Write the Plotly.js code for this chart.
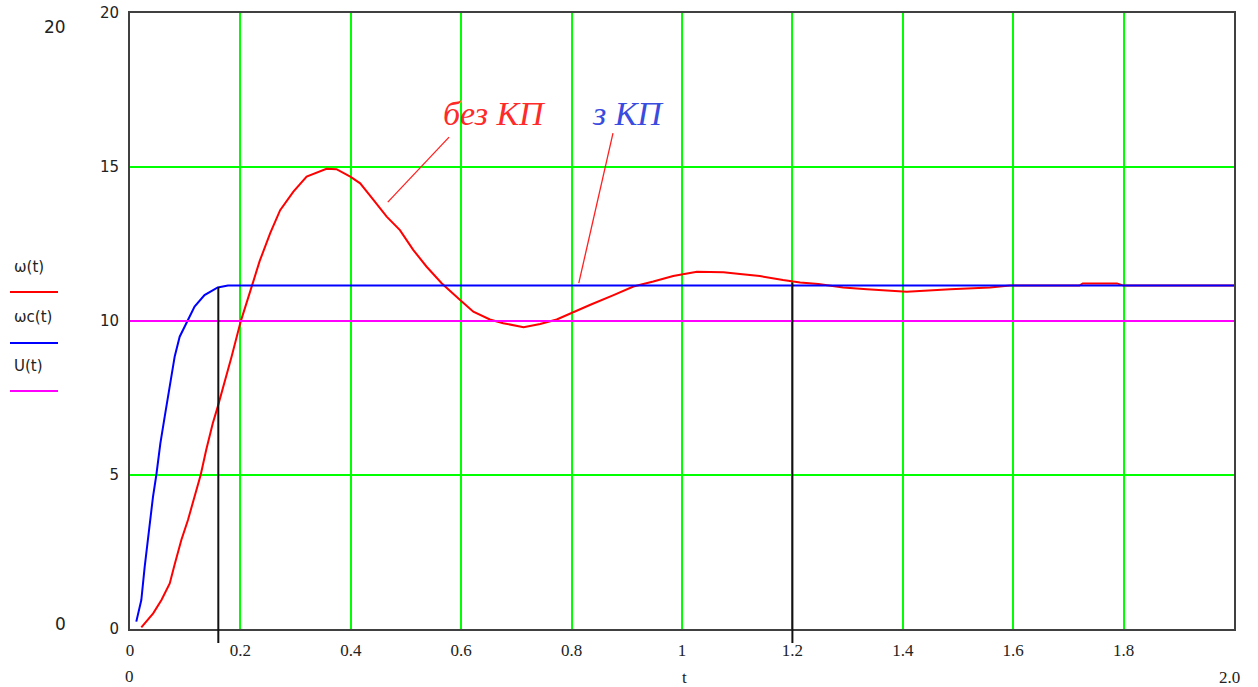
<!DOCTYPE html>
<html>
<head>
<meta charset="utf-8">
<script src="https://cdn.plot.ly/plotly-3.0.1.min.js"></script>
<style>
  html, body { margin: 0; padding: 0; background: #ffffff; }
  #chart { width: 1258px; height: 687px; }
</style>
</head>
<body>
<div id="chart"></div>
<script>
// ω(t) — without correction (red)
const omegaT = [0.0205, 0.042, 0.057, 0.072, 0.081, 0.093, 0.105, 0.117, 0.128, 0.138, 0.150, 0.159, 0.168,
  0.184, 0.2005, 0.220, 0.235, 0.254, 0.272, 0.296, 0.320, 0.356, 0.374, 0.399, 0.417, 0.441, 0.465, 0.489,
  0.513, 0.537, 0.565, 0.598, 0.622, 0.652, 0.676, 0.713, 0.743, 0.773, 0.800, 0.833, 0.876, 0.912, 0.948,
  0.984, 1.027, 1.075, 1.105, 1.141, 1.183, 1.214, 1.247, 1.292, 1.335, 1.407, 1.486, 1.558, 1.594, 1.650,
  1.720, 1.726, 1.788, 1.800, 1.900, 2.000];
const omegaV = [0.05, 0.51, 0.94, 1.48, 2.10, 2.89, 3.54, 4.30, 5.00, 5.81, 6.68, 7.22, 7.79,
  8.84, 9.98, 11.12, 11.95, 12.85, 13.60, 14.20, 14.69, 14.94, 14.93, 14.69, 14.47, 13.93, 13.39, 12.95,
  12.31, 11.77, 11.22, 10.68, 10.30, 10.05, 9.93, 9.80, 9.90, 10.05, 10.27, 10.52, 10.84, 11.12, 11.28,
  11.46, 11.60, 11.58, 11.53, 11.46, 11.33, 11.25, 11.20, 11.09, 11.03, 10.95, 11.03, 11.09, 11.15, 11.15,
  11.15, 11.22, 11.22, 11.15, 11.15, 11.15];

// ωc(t) — with correction (blue)
const omegaCT = [0.0114, 0.0205, 0.0266, 0.0338, 0.0417, 0.0477, 0.055, 0.0628, 0.0718, 0.081, 0.090,
  0.104, 0.117, 0.135, 0.159, 0.1775, 2.000];
const omegaCV = [0.24, 0.94, 2.02, 3.21, 4.30, 5.00, 6.03, 6.89, 7.80, 8.85, 9.49,
  9.98, 10.47, 10.84, 11.09, 11.15, 11.15];

// U(t) — reference (magenta)
const uT = [0, 2];
const uV = [10, 10];

// axis ticks
const xTickVals = [0, 0.2, 0.4, 0.6, 0.8, 1.0, 1.2, 1.4, 1.6, 1.8];
const xTickText = ['0', '0.2', '0.4', '0.6', '0.8', '1', '1.2', '1.4', '1.6', '1.8'];
const yTickVals = [0, 5, 10, 15, 20];
const yTickText = ['0', '5', '10', '15', '20'];

// marker lines: [t, level]
const markerT = [0.16, 1.2];
const markerV = [11.1, 11.25];

// legend labels
const legendNames = ['ω(t)', 'ωc(t)', 'U(t)'];
const legendColors = ['#ff0000', '#0000ff', '#ff00ff'];

// plot geometry helpers (pixel -> paper)
const L = 130, R = 1234, T = 13, B = 629;
const px = p => (p - L) / (R - L);
const py = p => (B - p) / (B - T);

const traces = [
  {x: omegaT, y: omegaV, mode: 'lines', line: {color: '#ff0000', width: 2}, name: legendNames[0]},
  {x: omegaCT, y: omegaCV, mode: 'lines', line: {color: '#0000ff', width: 2}, name: legendNames[1]},
  {x: uT, y: uV, mode: 'lines', line: {color: '#ff00ff', width: 2}, name: legendNames[2]}
];

const shapes = [];
markerT.forEach((t, i) => {
  shapes.push({type: 'line', xref: 'x', yref: 'paper', x0: t, x1: t,
    y0: py(643), y1: markerV[i] / 20, line: {color: '#111111', width: 2}, layer: 'above'});
});
// legend sample lines
const legendLineY = [292, 343, 391];
legendLineY.forEach((y, i) => {
  shapes.push({type: 'line', xref: 'paper', yref: 'paper', x0: px(10), x1: px(58), y0: py(y), y1: py(y),
    line: {color: legendColors[i], width: 2}});
});
// pointer lines for labels
shapes.push({type: 'line', xref: 'x', yref: 'y', x0: 0.578, y0: 15.97, x1: 0.467, y1: 13.86,
  line: {color: '#ff2020', width: 1.3}});
shapes.push({type: 'line', xref: 'x', yref: 'y', x0: 0.875, y0: 16.1, x1: 0.813, y1: 11.23,
  line: {color: '#ff2020', width: 1.3}});

const annotations = [];
const legendTextY = [267, 317, 366];
legendTextY.forEach((y, i) => {
  annotations.push({xref: 'paper', yref: 'paper', x: px(12), y: py(y), xanchor: 'left', yanchor: 'middle',
    text: legendNames[i], showarrow: false, font: {family: 'DejaVu Sans', size: 15, color: '#222222'}});
});
const extraLabels = [
  {text: '20', x: 55, y: 27, family: 'DejaVu Sans'},
  {text: '0', x: 60, y: 624, family: 'DejaVu Sans'},
  {text: '0', x: 129, y: 676, family: 'Liberation Serif'},
  {text: 't', x: 684, y: 677, family: 'Liberation Serif'},
  {text: '2.0', x: 1229, y: 677, family: 'Liberation Serif'}
];
extraLabels.forEach(o => {
  annotations.push({xref: 'paper', yref: 'paper', x: px(o.x), y: py(o.y), xanchor: 'center', yanchor: 'middle',
    text: o.text, showarrow: false, font: {family: o.family, size: 17, color: '#222222'}});
});
annotations.push({xref: 'paper', yref: 'paper', x: px(494), y: py(113), xanchor: 'center', yanchor: 'middle',
  text: '<i>без КП</i>', showarrow: false, font: {family: 'Liberation Serif', size: 34, color: '#ff2a2a'}});
annotations.push({xref: 'paper', yref: 'paper', x: px(628), y: py(113), xanchor: 'center', yanchor: 'middle',
  text: '<i>з КП</i>', showarrow: false, font: {family: 'Liberation Serif', size: 34, color: '#3a4be0'}});

const layout = {
  width: 1258, height: 687,
  margin: {l: L, r: 1258 - R, t: T, b: 687 - B, pad: 0},
  paper_bgcolor: '#ffffff', plot_bgcolor: '#ffffff',
  showlegend: false,
  xaxis: {
    range: [0, 2], tickvals: xTickVals, ticktext: xTickText, showgrid: true, gridcolor: '#00ff00', gridwidth: 2,
    zeroline: false, showline: true, mirror: true, linecolor: '#404040', linewidth: 2, ticks: '',
    tickfont: {family: 'Liberation Serif', size: 17, color: '#222222'}, ticklabelstandoff: 5
  },
  yaxis: {
    range: [0, 20], tickvals: yTickVals, ticktext: yTickText, showgrid: true, gridcolor: '#00ff00', gridwidth: 2,
    zeroline: false, showline: true, mirror: true, linecolor: '#404040', linewidth: 2, ticks: '',
    tickfont: {family: 'DejaVu Sans', size: 15, color: '#222222'}, ticklabelstandoff: 6
  },
  shapes: shapes,
  annotations: annotations
};

Plotly.newPlot('chart', traces, layout, {staticPlot: true, displayModeBar: false});
</script>
</body>
</html>
